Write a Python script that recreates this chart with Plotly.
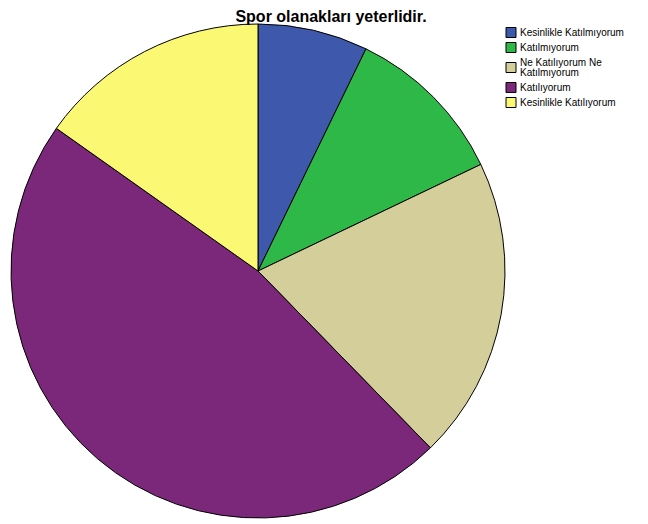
import plotly.graph_objects as go

# Answer categories and their shares
labels = [
    "Kesinlikle Katılmıyorum",
    "Katılmıyorum",
    "Ne Katılıyorum Ne<br>Katılmıyorum",
    "Katılıyorum",
    "Kesinlikle Katılıyorum",
]
values = [7.2, 10.7, 19.8, 47.1, 15.2]
colors = ["#3E58AC", "#2EB848", "#D4CF9A", "#7B287B", "#FBF873"]

W, H = 648, 524
OFF = 8  # page body margin offset


def fx(x):
    return (x - OFF) / W


def fy(y):
    return 1 - (y - OFF) / H


fig = go.Figure(
    go.Pie(
        labels=labels,
        values=values,
        sort=False,
        direction="clockwise",
        rotation=0,
        textinfo="none",
        hoverinfo="label+percent",
        showlegend=False,
        marker=dict(colors=colors, line=dict(color="black", width=1)),
        domain=dict(x=[fx(11), fx(505)], y=[fy(518), fy(24)]),
    )
)

# Compact legend (SPSS style): small boxes with tight line spacing
top = 25
for lab, col in zip(labels, colors):
    lines = lab.split("<br>")
    h = 5 + 10 * len(lines)
    cy = top + h / 2
    fig.add_shape(
        type="rect", xref="paper", yref="paper",
        x0=fx(506), x1=fx(516), y0=fy(cy + 5), y1=fy(cy - 5),
        fillcolor=col, line=dict(color="black", width=1),
    )
    for k, ln in enumerate(lines):
        ly = cy - 5 * (len(lines) - 1) + 10 * k
        fig.add_annotation(
            text=ln, xref="paper", yref="paper",
            x=fx(518), y=fy(ly), xanchor="left", yanchor="middle",
            showarrow=False, font=dict(size=10),
        )
    top += h

fig.update_layout(
    width=W,
    height=H,
    paper_bgcolor="white",
    plot_bgcolor="white",
    margin=dict(l=0, r=0, t=0, b=0),
    font=dict(family="Liberation Sans, Arial", size=11, color="black"),
    title=dict(
        text="<b>Spor olanakları yeterlidir.</b>",
        x=fx(331),
        xanchor="center",
        y=1 - 3 / H,
        yanchor="top",
        font=dict(size=16),
    ),
)

fig.write_html("out.html")
